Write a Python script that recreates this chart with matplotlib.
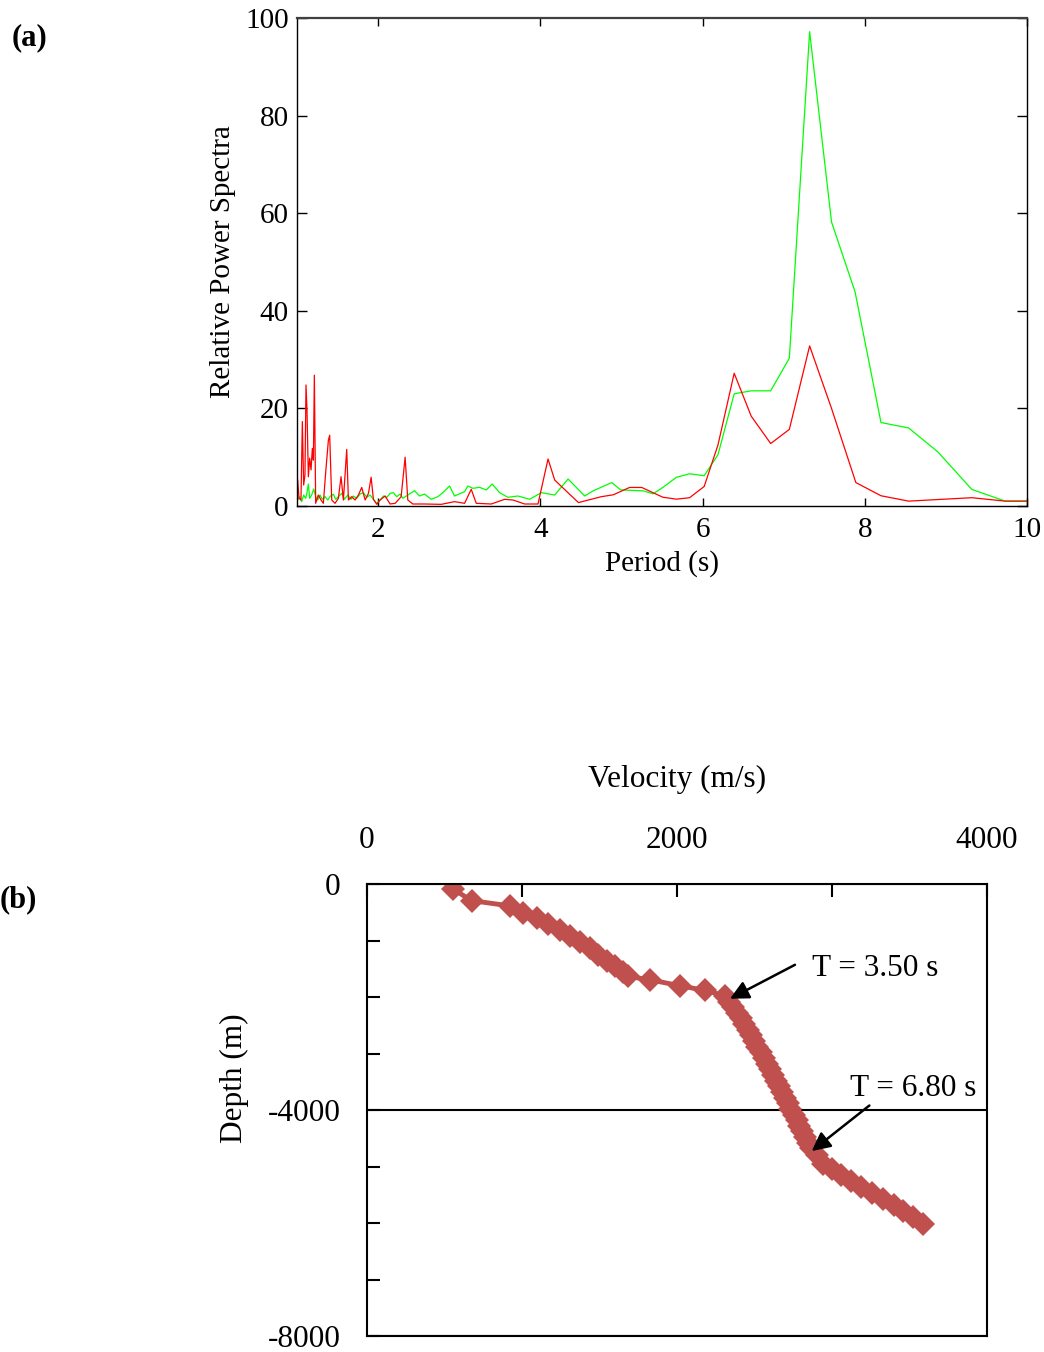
import matplotlib
matplotlib.use("Agg")
import matplotlib.pyplot as plt
from matplotlib.ticker import MultipleLocator, FixedLocator

plt.rcParams['font.family'] = ['Liberation Serif', 'DejaVu Serif']
plt.rcParams['axes.unicode_minus'] = False

# ---------------- Panel (a) data ----------------
green_period = [1.008, 1.033, 1.057, 1.082, 1.107, 1.123, 1.140, 1.156, 1.181, 1.206,
                1.230, 1.255, 1.284, 1.313, 1.346, 1.379, 1.412, 1.449, 1.477, 1.510,
                1.551, 1.584, 1.626, 1.667, 1.695, 1.737, 1.778, 1.819, 1.860, 1.901,
                1.942, 1.984, 2.025, 2.066, 2.107, 2.148, 2.189, 2.230, 2.272, 2.305,
                2.366, 2.449, 2.510, 2.572, 2.654, 2.737, 2.798, 2.881, 2.942, 3.066,
                3.107, 3.169, 3.251, 3.333, 3.407, 3.498, 3.601, 3.724, 3.868, 4.012,
                4.177, 4.342, 4.547, 4.65, 4.88, 4.99, 5.27, 5.39, 5.51, 5.68,
                5.84, 6.02, 6.19, 6.39, 6.60, 6.84, 7.07, 7.32, 7.59, 7.88,
                8.20, 8.54, 8.90, 9.32, 9.73, 10.0]
green_power = [1.23, 1.91, 0.89, 2.25, 1.57, 2.73, 4.51, 1.57, 2.25, 3.48,
               1.91, 1.23, 2.25, 1.37, 1.91, 1.23, 2.05, 2.39, 1.37, 1.91,
               2.60, 1.37, 2.25, 1.37, 2.05, 1.57, 2.46, 2.73, 1.78, 2.25,
               1.37, 0.55, 1.23, 2.05, 1.78, 2.60, 2.73, 1.91, 2.46, 1.57,
               2.25, 3.14, 2.05, 2.46, 1.37, 1.91, 2.73, 4.10, 2.05, 2.94,
               4.10, 3.62, 3.83, 3.28, 4.51, 2.73, 1.78, 2.05, 1.37, 2.73,
               2.25, 5.53, 2.05, 3.1, 4.8, 3.3, 3.1, 2.5, 3.8, 5.9,
               6.6, 6.2, 10.5, 23.0, 23.6, 23.6, 30.3, 97.2, 58.2, 43.9,
               17.1, 16.0, 11.1, 3.4, 1.0, 1.0]

red_period = [1.008, 1.025, 1.049, 1.066, 1.082, 1.098, 1.111, 1.123, 1.140, 1.156,
              1.173, 1.189, 1.202, 1.214, 1.230, 1.263, 1.296, 1.325, 1.354, 1.387,
              1.403, 1.428, 1.469, 1.510, 1.543, 1.572, 1.613, 1.634, 1.675, 1.716,
              1.757, 1.798, 1.840, 1.881, 1.914, 1.942, 1.984, 2.025, 2.086, 2.148,
              2.210, 2.284, 2.333, 2.366, 2.428, 2.572, 2.778, 2.942, 3.066, 3.148,
              3.210, 3.395, 3.560, 3.663, 3.807, 3.971, 4.095, 4.177, 4.26, 4.47,
              4.75, 4.90, 5.10, 5.25, 5.51, 5.68, 5.84, 6.02, 6.19, 6.39,
              6.60, 6.84, 7.07, 7.32, 7.59, 7.89, 8.20, 8.54, 9.32, 9.73, 10.0]
red_power = [5.3, 1.57, 1.23, 17.3, 4.3, 6.3, 24.8, 19.7, 6.0, 9.8,
             7.4, 11.8, 9.4, 26.8, 0.55, 2.25, 1.23, 0.55, 7.0, 13.5,
             14.5, 1.23, 0.55, 1.57, 6.0, 1.23, 11.6, 1.23, 1.91, 1.23,
             2.25, 3.8, 1.23, 2.6, 5.9, 1.37, 0.34, 1.23, 2.05, 0.41,
             0.55, 1.91, 10.0, 1.23, 0.41, 0.41, 0.34, 0.89, 0.55, 3.42,
             0.55, 0.41, 1.37, 1.23, 0.41, 0.41, 9.63, 5.33, 4.0, 0.7,
             1.9, 2.3, 3.8, 3.8, 1.8, 1.4, 1.7, 4.0, 12.5, 27.2,
             18.4, 12.8, 15.7, 32.8, 20.0, 4.8, 2.1, 1.0, 1.7, 1.0, 1.0]

a_xticks = [2, 4, 6, 8, 10]
a_yticks = [0, 20, 40, 60, 80, 100]

# ---------------- Panel (b) data ----------------
velocity = [557, 675, 923, 1008, 1095, 1170, 1245, 1310, 1374, 1439,
            1492, 1546, 1600, 1654, 1686, 1826, 2019, 2181, 2310,
            2338, 2364, 2389, 2412, 2434, 2456, 2477, 2498, 2519, 2540,
            2561, 2580, 2599, 2618, 2637, 2656, 2675, 2694, 2713, 2732,
            2752, 2771, 2790, 2809, 2828, 2847, 2866,
            2900, 2944, 3000, 3060, 3120, 3190, 3260, 3330, 3400, 3460, 3525, 3589]
depth = [-94, -294, -388, -507, -607, -706, -812, -918, -1019, -1136,
         -1254, -1355, -1460, -1549, -1637, -1695, -1801, -1884, -1978,
         -2080, -2180, -2280, -2380, -2480, -2580, -2680, -2780, -2880, -2980,
         -3080, -3180, -3280, -3380, -3480, -3580, -3680, -3780, -3880, -3980,
         -4080, -4180, -4280, -4380, -4480, -4580, -4680,
         -4800, -4950, -5050, -5150, -5250, -5360, -5470, -5580, -5690, -5790, -5900, -6010]

b_xticks = [0, 2000, 4000]
b_yticks = [0, -4000, -8000]

ann_labels = ["T = 3.50 s", "T = 6.80 s"]
ann_tip = [(2342, -2031), (2869, -4727)]
ann_tail = [(2761, -1430), (3241, -3921)]
ann_text = [(2871, -1500), (3116, -3620)]

W, H = 1044, 1352
fig = plt.figure(figsize=(W / 100, H / 100), dpi=100)

# ---------------- Panel (a) ----------------
axa = fig.add_axes([297 / W, 1 - 506 / H, 730 / W, 488 / H])
axa.plot(green_period, green_power, color='#00ff00', lw=0.9)
axa.plot(red_period, red_power, color='#ff0000', lw=0.9)
axa.set_xlim(1, 10)
axa.set_ylim(0, 100)
axa.xaxis.set_major_locator(FixedLocator(a_xticks))
axa.yaxis.set_major_locator(FixedLocator(a_yticks))
axa.tick_params(axis='x', direction='in', length=6, width=1, top=True,
                labelsize=21, pad=8)
axa.tick_params(axis='y', direction='in', length=7, width=1, right=True,
                labelsize=21, pad=6)
for s in ['left', 'right', 'bottom']:
    axa.spines[s].set_linewidth(1.0)
    axa.spines[s].set_color('black')
axa.spines['top'].set_linewidth(1.6)
axa.spines['top'].set_color('#404040')
axa.set_xlabel('Period (s)', fontsize=21, labelpad=5)
axa.set_ylabel('Relative Power Spectra', fontsize=21, labelpad=6.5)

fig.text(12 / W, 1 - 38 / H, '(a)', fontsize=22, fontweight='bold',
         ha='left', va='center')

# ---------------- Panel (b) ----------------
axb = fig.add_axes([367 / W, 1 - 1336 / H, 620 / W, 452 / H])
axb.plot(velocity, depth, color='#c0504d', lw=3.5, marker='D', ms=12,
         markeredgewidth=0)
axb.set_xlim(0, 4000)
axb.set_ylim(-8000, 0)
axb.xaxis.tick_top()
axb.xaxis.set_label_position('top')
axb.xaxis.set_major_locator(FixedLocator(b_xticks))
axb.xaxis.set_minor_locator(MultipleLocator(1000))
axb.yaxis.set_major_locator(FixedLocator(b_yticks))
axb.yaxis.set_minor_locator(MultipleLocator(1000))
axb.tick_params(axis='x', which='both', direction='in', length=9, width=1.5,
                labelsize=22.5, pad=21, top=True, bottom=False)
axb.tick_params(axis='y', which='both', direction='in', length=9, width=1.5,
                labelsize=22.5, pad=19)
axb.grid(axis='y', which='major', color='black', lw=1.5)
for s in axb.spines.values():
    s.set_linewidth(1.5)
    s.set_color('black')
axb.set_xlabel('Velocity (m/s)', fontsize=22.5, labelpad=28)
axb.set_ylabel('Depth (m)', fontsize=22.5)
axb.yaxis.set_label_coords(-0.19, 0.57)

for lab, tip, tail, tpos in zip(ann_labels, ann_tip, ann_tail, ann_text):
    axb.annotate('', xy=tip, xytext=tail,
                 arrowprops=dict(arrowstyle='-|>', color='black', lw=1.8,
                                 mutation_scale=28, shrinkA=0, shrinkB=0))
    axb.text(tpos[0], tpos[1], lab, fontsize=22.5, ha='left', va='center')

fig.text(0 / W, 1 - 900 / H, '(b)', fontsize=22, fontweight='bold',
         ha='left', va='center')

fig.savefig('out.png', dpi=100)
